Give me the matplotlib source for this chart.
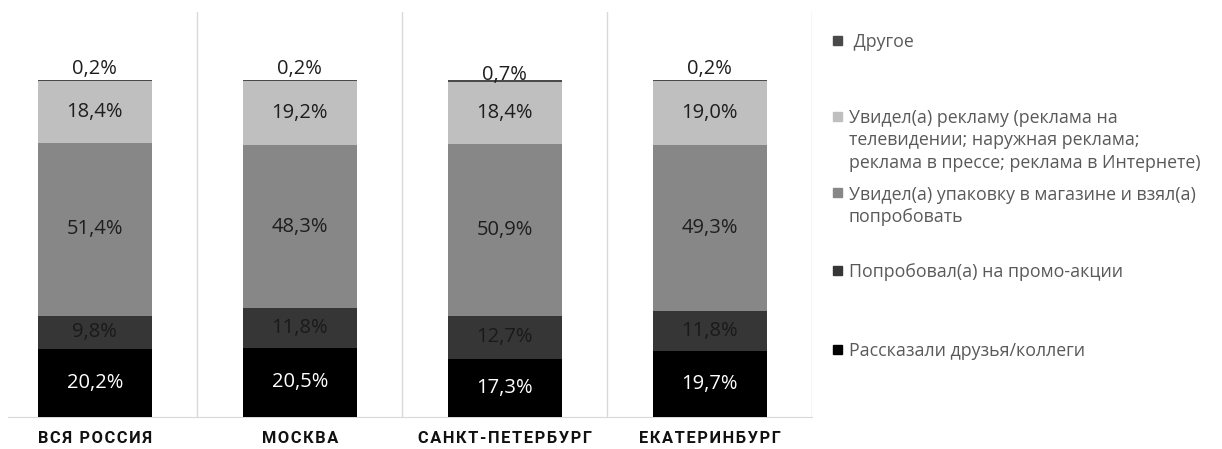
import matplotlib.pyplot as plt
import numpy as np

plt.rcParams['font.family'] = ['Open Sans', 'DejaVu Sans']

# Survey shares by city, %
cities = ['ВСЯ РОССИЯ', 'МОСКВА', 'САНКТ-ПЕТЕРБУРГ', 'ЕКАТЕРИНБУРГ']
friends = [20.2, 20.5, 17.3, 19.7]
promo = [9.8, 11.8, 12.7, 11.8]
package = [51.4, 48.3, 50.9, 49.3]
advert = [18.4, 19.2, 18.4, 19.0]
other = [0.2, 0.2, 0.7, 0.2]

series = [
    ('Рассказали друзья/коллеги', friends, '#000000', 'white'),
    ('Попробовал(а) на промо-акции', promo, '#363636', '#1a1a1a'),
    ('Увидел(а) упаковку в магазине и взял(а)\nпопробовать', package, '#878787', '#1e1e1e'),
    ('Увидел(а) рекламу (реклама на\nтелевидении; наружная реклама;\nреклама в прессе; реклама в Интернете)',
     advert, '#bfbfbf', '#1e1e1e'),
    (' Другое', other, '#4a4a4a', '#1e1e1e'),
]

W, H = 1222, 449
fig = plt.figure(figsize=(W / 100, H / 100), dpi=100)
ax = fig.add_axes([8 / W, 1 - 417 / H, 804 / W, 405 / H])

x = np.arange(len(cities))
bottom = np.zeros(len(cities))
for name, vals, color, tcolor in series:
    vals = np.array(vals)
    ax.bar(x, vals, 0.556, bottom=bottom, color=color, zorder=3)
    if name.strip() != 'Другое':
        for xi, b, v in zip(x, bottom, vals):
            ax.text(xi, b + v / 2, f'{v:.1f}%'.replace('.', ','), ha='center', va='center',
                    fontsize=14.5, color=tcolor, zorder=4)
    else:
        # small share: label sits just above the stack
        for xi, b, v, dy in zip(x, bottom, vals, [0.5, 0.5, -3.5, 0.5]):
            ax.annotate(f'{v:.1f}%'.replace('.', ','), (xi, b + v), xytext=(0, dy),
                        textcoords='offset points', ha='center', va='bottom',
                        fontsize=14.5, color='#1e1e1e', zorder=4)
    bottom += vals

ax.set_xlim(-0.424, 3.5)
ax.set_ylim(0, 120.2)
for gx in [0.5, 1.5, 2.5, 3.5]:
    ax.axvline(gx, color='#d9d9d9', lw=1, zorder=1)
for s in ['top', 'right', 'left']:
    ax.spines[s].set_visible(False)
ax.spines['bottom'].set_color('#d9d9d9')
ax.set_yticks([])
ax.set_xticks(x)
# spaced-out capitals for the city names
ax.set_xticklabels(['\u200a'.join(c) for c in cities], family=['Roboto', 'DejaVu Sans'],
                   fontweight='bold', fontsize=11.8, color='#111111')
ax.tick_params(axis='x', length=0, pad=10)

# Legend on the right, top entry first
legend_y = [40, 116, 193, 270, 349]
for (name, vals, color, tcolor), ly in zip(series[::-1], legend_y):
    fig.patches.append(plt.Rectangle((833 / W, 1 - (ly + 4.5) / H), 9 / W, 9 / H,
                                     transform=fig.transFigure, color=color, figure=fig))
    fig.text(849 / W, 1 - (ly - 7) / H, name, ha='left', va='top', fontsize=12.8,
             color='#595959', linespacing=1.32,
             transform=fig.transFigure)

fig.savefig('out.png', dpi=100)
